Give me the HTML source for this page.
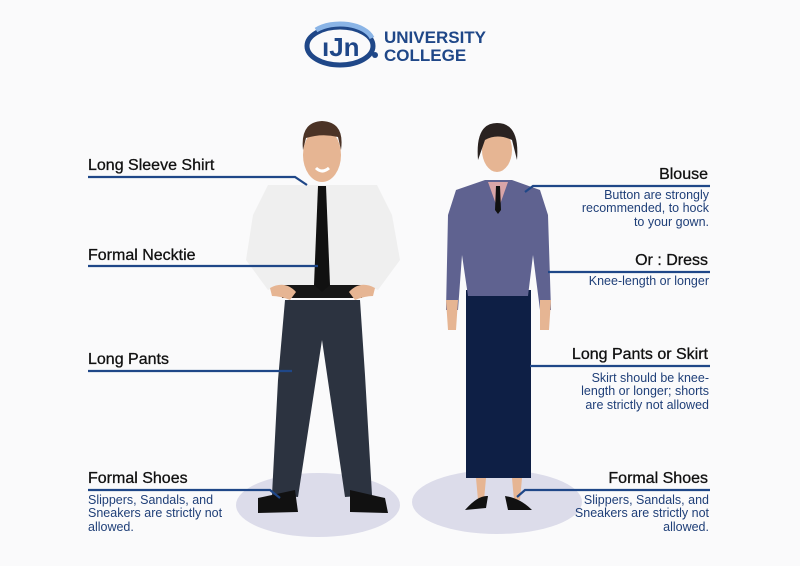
<!DOCTYPE html>
<html><head><meta charset="utf-8"><style>
body{margin:0;width:800px;height:566px;background:#fafafb;overflow:hidden;position:relative;font-family:"Liberation Sans",sans-serif}
.l{position:absolute;font-size:16px;color:#111;line-height:18px;white-space:nowrap;-webkit-text-stroke:0.3px #111}
.s{position:absolute;font-size:12.5px;color:#1f3f78;line-height:13.3px;white-space:nowrap}
.r{text-align:right}
</style></head><body>
<svg width="800" height="566" style="position:absolute;left:0;top:0">
<!-- logo -->
<ellipse cx="340" cy="46" rx="33" ry="19" fill="none" stroke="#1f4788" stroke-width="5"/>
<path d="M316 30 A33 19 0 0 1 372 38" fill="none" stroke="#8ab4e6" stroke-width="5"/>
<text x="322" y="56" font-family="Liberation Sans" font-weight="bold" font-size="26" fill="#1f4788">ıJn</text>
<circle cx="375" cy="55" r="3" fill="#1f4788"/>
<text x="384" y="43" font-family="Liberation Sans" font-weight="bold" font-size="17" fill="#1f4788">UNIVERSITY</text>
<text x="384" y="61" font-family="Liberation Sans" font-weight="bold" font-size="17" fill="#1f4788">COLLEGE</text>
<!-- shadows -->
<ellipse cx="318" cy="505" rx="82" ry="32" fill="#dcdcea"/>
<ellipse cx="497" cy="502" rx="85" ry="32" fill="#dcdcea"/>
<!-- man -->
<path d="M285 300 L360 300 L365 375 L372 495 L345 497 L322 340 L298 497 L272 495 L278 380 Z" fill="#2c3340"/>
<path d="M258 498 L295 490 L298 512 L258 513 Z" fill="#111"/>
<path d="M350 490 L385 498 L388 513 L350 512 Z" fill="#111"/>
<path d="M268 185 L377 185 L392 215 L400 260 L378 290 L365 285 L362 298 L282 298 L280 285 L268 290 L246 260 L253 215 Z" fill="#efefef"/>
<path d="M282 285 L362 285 L362 298 L282 298Z" fill="#161616"/>
<path d="M270 288 Q285 280 296 292 L290 300 Q280 296 272 296Z M375 288 Q360 280 349 292 L355 300 Q365 296 373 296Z" fill="#e6b593"/>
<path d="M318 186 L326 186 L330 285 L322 292 L314 285 Z" fill="#111"/>
<ellipse cx="322" cy="155" rx="19" ry="27" fill="#e6b593"/>
<path d="M303 150 Q300 122 322 121 Q345 122 341 150 L338 137 Q322 133 306 138 Z" fill="#4b3326"/>
<path d="M316 168 Q322 174 329 168" stroke="#fff" stroke-width="3" fill="none"/>
<!-- woman -->
<path d="M466 290 L531 290 L531 478 L466 478 Z" fill="#0e1f45"/>
<path d="M476 478 L486 478 L484 500 L478 500 Z M512 478 L522 478 L520 500 L514 500 Z" fill="#e6b593"/>
<path d="M465 510 Q478 495 488 496 L486 508 Z M505 496 Q520 498 532 510 L508 510 Z" fill="#111"/>
<path d="M485 180 L512 180 L540 190 L548 215 L551 310 L540 310 L533 255 L528 296 L468 296 L462 255 L458 310 L446 310 L448 215 L456 190 Z" fill="#5f6290"/>
<path d="M446 300 L458 300 L456 330 L448 330 Z M540 300 L551 300 L549 330 L540 330 Z" fill="#e6b593"/>
<path d="M488 182 L508 182 L498 210 Z" fill="#d9a5a8"/>
<path d="M496 186 L500 186 L501 210 L498 214 L495 210 Z" fill="#111"/>
<ellipse cx="497" cy="150" rx="15" ry="22" fill="#e6b593"/>
<path d="M478 160 Q475 123 497 123 Q520 123 517 160 L512 140 Q497 133 485 140 Z" fill="#2a2220"/>
<!-- lines -->
<g stroke="#1f4788" stroke-width="2.2" fill="none">
<path d="M88 177 H295 L307 185"/>
<path d="M88 266 H318"/>
<path d="M88 371 H292"/>
<path d="M88 490 H270 L280 498"/>
<path d="M710 186 H533 L525 192"/>
<path d="M710 272 H548"/>
<path d="M710 366 H530"/>
<path d="M710 490 H525 L517 497"/>
</g>
</svg>
<div class="l" style="left:88px;top:157px">Long Sleeve Shirt</div>
<div class="l" style="left:88px;top:247px">Formal Necktie</div>
<div class="l" style="left:88px;top:351px">Long Pants</div>
<div class="l" style="left:88px;top:470px">Formal Shoes</div>
<div class="s" style="left:88px;top:494px">Slippers, Sandals, and<br>Sneakers are strictly not<br>allowed.</div>
<div class="l r" style="right:92px;top:166px">Blouse</div>
<div class="s r" style="right:91px;top:189px">Button are strongly<br>recommended, to hock<br>to your gown.</div>
<div class="l r" style="right:92px;top:252px">Or : Dress</div>
<div class="s r" style="right:91px;top:275px">Knee-length or longer</div>
<div class="l r" style="right:92px;top:346px">Long Pants or Skirt</div>
<div class="s r" style="right:91px;top:372px">Skirt should be knee-<br>length or longer; shorts<br>are strictly not allowed</div>
<div class="l r" style="right:92px;top:470px">Formal Shoes</div>
<div class="s r" style="right:91px;top:494px">Slippers, Sandals, and<br>Sneakers are strictly not<br>allowed.</div>
</body></html>
